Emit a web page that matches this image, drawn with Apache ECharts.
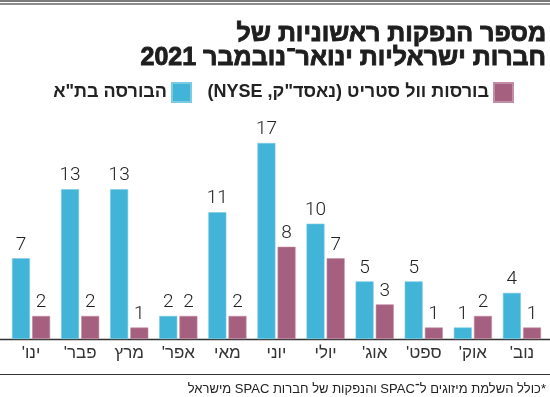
<!DOCTYPE html>
<html lang="he" dir="rtl">
<head>
<meta charset="utf-8">
<script src="https://cdn.jsdelivr.net/npm/echarts@6/dist/echarts.min.js"></script>
<style>
  html, body { margin: 0; padding: 0; background: #fff; }
  #chart { width: 550px; height: 397px; }
</style>
</head>
<body>
<div id="chart"></div>
<script>
// months, left to right as in the picture
const months = ["ינו'", "פבר'", 'מרץ', "אפר'", 'מאי', 'יוני', 'יולי', "אוג'", "ספט'", "אוק'", "נוב'"]
const tase = [7, 13, 13, 2, 11, 17, 10, 5, 5, 1, 4]
const wallStreet = [2, 2, 1, 2, 2, 8, 7, 3, 1, 2, 1]
const seriesNames = ['הבורסה בת"א', 'בורסות וול סטריט (נאסד"ק, NYSE)']

const titleLines = ['מספר הנפקות ראשוניות של', 'חברות ישראליות ינואר־נובמבר 2021']
const footText = '*כולל השלמת מיזוגים ל־SPAC והנפקות של חברות SPAC מישראל'

const heb = "'Liberation Sans', 'DejaVu Sans', sans-serif"
const digits = "Roboto, 'Liberation Sans', sans-serif"

const chart = echarts.init(document.getElementById('chart'), null, { renderer: 'canvas' })

const labelOpt = {
  show: true,
  position: 'top',
  distance: 4,
  color: '#222',
  fontSize: 19,
  fontWeight: 300,
  fontFamily: digits
}

const legendBase = {
  top: 82,
  align: 'right',
  orient: 'horizontal',
  itemWidth: 19,
  itemHeight: 19,
  icon: 'rect',
  padding: 0,
  textStyle: {
    fontFamily: heb,
    fontWeight: 'bold',
    fontSize: 18,
    color: '#222'
  }
}

// title face in the picture is heavier than any bold we have, so stroke it a bit
const titleStyle = {
  fontFamily: heb,
  fontWeight: 'bold',
  fontSize: 25,
  color: '#1e1e1e',
  textBorderColor: '#1e1e1e',
  textBorderWidth: 0.9
}

const option = {
  animation: false,
  backgroundColor: '#fff',
  // one title per line so each is right aligned
  title: [
    { text: titleLines[0], right: 3, top: 22, padding: 0, textStyle: titleStyle },
    { text: titleLines[1], right: 3, top: 46, padding: 0, textStyle: titleStyle }
  ],
  legend: [
    Object.assign({ data: [seriesNames[1]], right: 36 }, legendBase),
    Object.assign({ data: [seriesNames[0]], right: 358 }, legendBase)
  ],
  grid: {
    left: 6.5,
    right: 3.5,
    top: 108.4,
    bottom: 58
  },
  xAxis: {
    type: 'category',
    data: months,
    axisLine: { show: false },
    axisTick: { show: false },
    axisLabel: {
      fontFamily: heb,
      fontSize: 17,
      color: '#333',
      margin: 6
    }
  },
  yAxis: {
    type: 'value',
    min: 0,
    max: 20,
    show: false,
    splitLine: { show: false }
  },
  series: [
    {
      name: seriesNames[0],
      type: 'bar',
      data: tase,
      barWidth: 18,
      barGap: '12%',
      itemStyle: { color: '#41b4d8', borderColor: '#7ccbe4', borderWidth: 0.6 },
      label: labelOpt
    },
    {
      name: seriesNames[1],
      type: 'bar',
      data: wallStreet,
      barWidth: 18,
      itemStyle: { color: '#a55f7f', borderColor: '#c28ea5', borderWidth: 0.6 },
      label: labelOpt
    }
  ],
  graphic: [
    // double rule at top
    { type: 'rect', shape: { x: 0, y: 0, width: 550, height: 2 }, style: { fill: '#7a7a7a' } },
    { type: 'rect', shape: { x: 0, y: 3, width: 550, height: 2 }, style: { fill: '#8c8c8c' } },
    // baseline
    { type: 'line', shape: { x1: 0, y1: 339.5, x2: 550, y2: 339.5 }, style: { stroke: '#333', lineWidth: 1.5 } },
    // footer rule
    { type: 'line', shape: { x1: 0, y1: 374.5, x2: 550, y2: 374.5 }, style: { stroke: '#333', lineWidth: 1 } },
    {
      type: 'text',
      right: 4,
      top: 383,
      style: {
        text: footText,
        fontFamily: heb,
        fontSize: 13,
        fill: '#222'
      }
    }
  ]
}

chart.setOption(option)
</script>
</body>
</html>
